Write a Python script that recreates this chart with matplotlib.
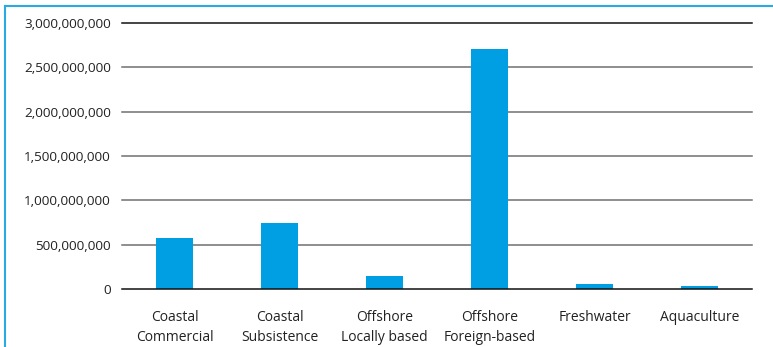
import matplotlib
matplotlib.use("Agg")
import matplotlib.pyplot as plt
from matplotlib.lines import Line2D
from matplotlib.ticker import FuncFormatter

categories = ["Coastal\nCommercial", "Coastal\nSubsistence", "Offshore\nLocally based",
              "Offshore\nForeign-based", "Freshwater", "Aquaculture"]
values = [575e6, 745e6, 150e6, 2705e6, 55e6, 35e6]
yticks = [0, 500e6, 1000e6, 1500e6, 2000e6, 2500e6, 3000e6]

plt.rcParams['font.family'] = ['Open Sans', 'DejaVu Sans']

fig = plt.figure(figsize=(7.73, 3.47), dpi=100)
ax = fig.add_axes([122/773, 1 - 289/347, 630/773, (289 - 23)/347])

x = list(range(len(categories)))
ax.bar(x, values, width=0.35, color="#009FE3", zorder=3)
ax.set_xlim(-0.5, len(categories) - 0.5)
ax.set_ylim(0, 3000e6)
ax.set_yticks(yticks)
ax.yaxis.set_major_formatter(FuncFormatter(lambda v, p: f"{int(v):,}"))
for t in yticks:
    c = "#111111" if t in (0, 3000e6) else "#707070"
    ax.axhline(t, color=c, lw=1.1, zorder=2 if t else 4, clip_on=False)

ax.set_xticks(x)
ax.set_xticklabels(categories, fontsize=10, color="#222222", linespacing=1.45)
ax.tick_params(axis="x", length=0, pad=15)
ax.tick_params(axis="y", length=0, pad=8, labelsize=9.7, labelcolor="#222222")
for s in ax.spines.values():
    s.set_visible(False)

# light blue frame (top and left)
fig.add_artist(Line2D([4.5/773, 4.5/773], [0, 1 - 6/347], transform=fig.transFigure,
                      color="#29ABE2", lw=1.5))
fig.add_artist(Line2D([4.5/773, 1], [1 - 6/347, 1 - 6/347], transform=fig.transFigure,
                      color="#29ABE2", lw=1.5))

fig.savefig("out.png", dpi=100)
